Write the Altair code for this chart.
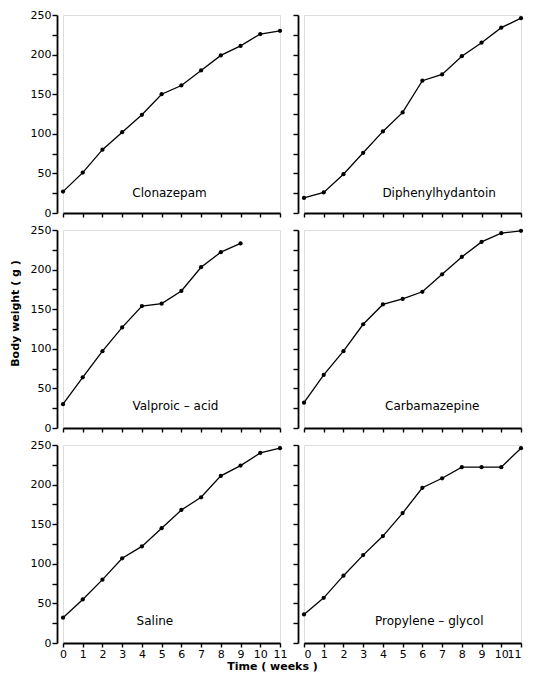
import altair as alt
import pandas as pd

weeks = list(range(12))
drugs = ["Clonazepam", "Diphenylhydantoin", "Valproic – acid",
         "Carbamazepine", "Saline", "Propylene – glycol"]
clonazepam = [27, 51, 80, 102, 124, 150, 161, 180, 199, 211, 226, 230]
diphenylhydantoin = [19, 26, 49, 76, 103, 127, 167, 175, 198, 215, 234, 246]
valproic = [30, 64, 97, 127, 154, 157, 173, 203, 222, 233]
carbamazepine = [32, 67, 97, 131, 156, 163, 172, 194, 216, 235, 246, 249]
saline = [32, 55, 80, 107, 122, 145, 168, 184, 211, 224, 240, 246]
propylene = [36, 57, 85, 111, 135, 164, 196, 208, 222, 222, 222, 246]
y_ticks = list(range(0, 251, 25))

series = [clonazepam, diphenylhydantoin, valproic, carbamazepine, saline, propylene]
rows = []
for name, vals in zip(drugs, series):
    for w, v in zip(weeks, vals):
        rows.append({"drug": name, "week": w, "weight": v})
df = pd.DataFrame(rows)

# annotation placement (data space) for panel names
label_pos = {
    "Clonazepam": (5.4, 25.5),
    "Diphenylhydantoin": (6.85, 25.5),
    "Valproic – acid": (5.7, 27.5),
    "Carbamazepine": (6.5, 27.5),
    "Saline": (4.66, 28.4),
    "Propylene – glycol": (6.35, 28.4),
}

FONT = "DejaVu Sans"
W, H = 217, 198


def panel(name, left, bottom, ytitle=False, xtitle=False, flush=False):
    xs = alt.Scale(domain=[0, 11], nice=False, zero=False)
    ys = alt.Scale(domain=[0, 250], nice=False)
    xkw = dict(values=weeks, labels=bottom, tickSize=4, tickWidth=1.4,
               domainWidth=1.8, domainColor="black", tickColor="black",
               grid=False, labelFontSize=11, labelPadding=1, labelFlush=flush,
               labelOverlap=False, labelColor="black", labelFont=FONT)
    if xtitle:
        xkw.update(title="Time   ( weeks )", titleX=209, titleAlign="center",
                   titleFontSize=11, titleFont=FONT, titleFontWeight="bold",
                   titlePadding=1, titleColor="black")
    else:
        xkw.update(title=None)
    ykw = dict(values=y_ticks, labels=left, tickSize=5, tickWidth=1.4,
               domainWidth=1.8, domainColor="black", tickColor="black",
               grid=False, offset=6, labelFontSize=11, labelPadding=1,
               labelOverlap=False, labelColor="black", labelFont=FONT,
               labelExpr="datum.value % 50 == 0 ? datum.label : ''")
    if ytitle:
        ykw.update(title="Body  weight  ( g )", titleY=83, titleFontSize=11,
                   titleFont=FONT, titleFontWeight="bold", titlePadding=10,
                   titleColor="black")
    else:
        ykw.update(title=None)
    xa = alt.Axis(**xkw)
    ya = alt.Axis(**ykw)

    base = alt.Chart(df).transform_filter(alt.datum.drug == name)
    enc = dict(x=alt.X("week:Q", scale=xs, axis=xa),
               y=alt.Y("weight:Q", scale=ys, axis=ya))
    line = base.mark_line(color="black", strokeWidth=1.3).encode(**enc)
    pts = base.mark_point(filled=True, color="black", size=18, opacity=1).encode(**enc)
    lx, ly = label_pos[name]
    txt = alt.Chart(pd.DataFrame({"t": [name]})).mark_text(
        font=FONT, fontSize=12, color="black", align="center", baseline="middle"
    ).encode(
        x=alt.XDatum(lx, type="quantitative", scale=xs, axis=xa),
        y=alt.YDatum(ly, type="quantitative", scale=ys, axis=ya),
        text="t:N",
    )
    return alt.layer(line, pts, txt).properties(width=W, height=H)


panels = [
    panel(drugs[0], True, False), panel(drugs[1], False, False),
    panel(drugs[2], True, False, ytitle=True), panel(drugs[3], False, False),
    panel(drugs[4], True, True, xtitle=True), panel(drugs[5], False, True, flush=True),
]

chart = alt.concat(*panels, columns=2, spacing={"row": 17, "column": 24},
                   bounds="flush").properties(
    padding=0
).configure_view(stroke=None).configure(font=FONT)

chart.save("out.html", embed_options={"renderer": "svg", "actions": False})
